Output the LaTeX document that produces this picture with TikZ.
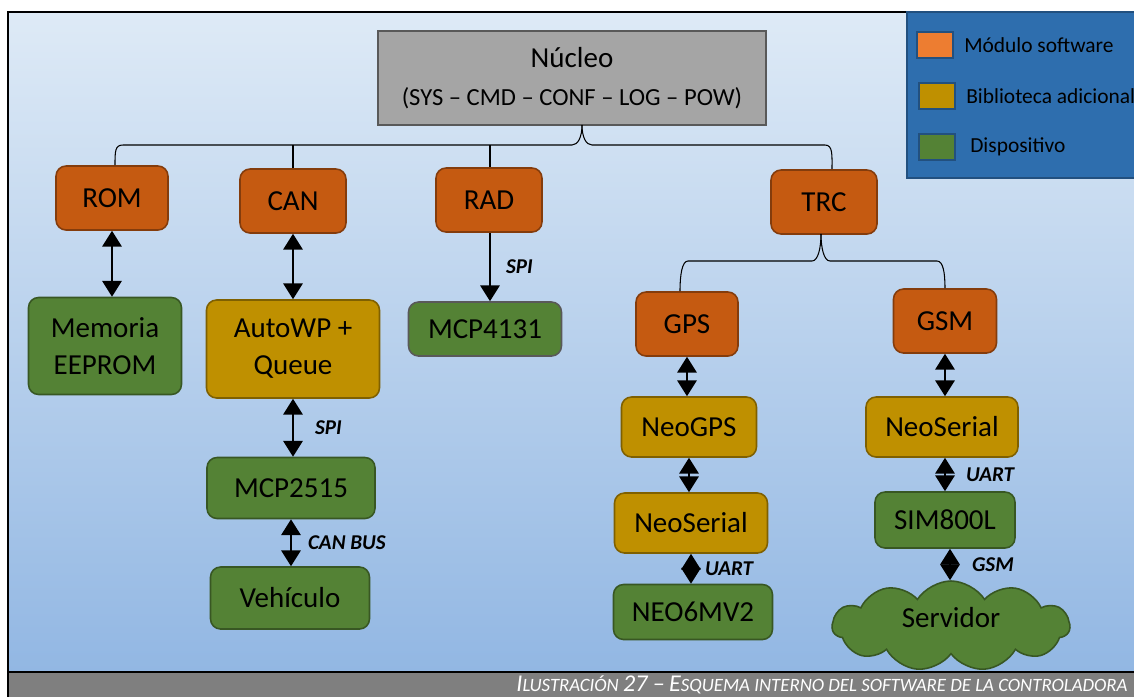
\documentclass[tikz,border=0pt]{standalone}
\usepackage{fontspec}
\setmainfont{Carlito}
\usetikzlibrary{arrows.meta}
\usetikzlibrary{shapes}
\usetikzlibrary{positioning}

\definecolor{modfill}{HTML}{C55A11}
\definecolor{moddraw}{HTML}{843C0C}
\definecolor{libfill}{HTML}{BF9000}
\definecolor{libdraw}{HTML}{7F6000}
\definecolor{devfill}{HTML}{548235}
\definecolor{devdraw}{HTML}{385723}
\definecolor{legmod}{HTML}{ED7D31}
\definecolor{legfill}{HTML}{2E6EAE}
\definecolor{legdraw}{HTML}{22507F}
\definecolor{bgtop}{HTML}{DEEAF6}
\definecolor{bgbot}{HTML}{92B7E3}
\definecolor{capgray}{HTML}{7F7F7F}
\definecolor{nucfill}{HTML}{A5A5A5}

\newcommand\gcap[1]{{\fontsize{13.7}{15}\selectfont #1}}

\begin{document}
\begin{tikzpicture}[x=0.02cm,y=-0.02cm]
\tikzset{every node/.style={font=\fontsize{16.5}{21}\selectfont, align=center, inner sep=0pt},
        >={Triangle[width=11pt,length=9pt]},
        box/.style={draw, rounded corners=0.2cm, line width=0.9pt},
        modulo/.style={box, fill=modfill, draw=moddraw, minimum width=2.12cm, minimum height=1.28cm},
        biblio/.style={box, fill=libfill, draw=libdraw},
        dispo/.style={box, fill=devfill, draw=devdraw},
        link/.style={<->, line width=1.2pt},
        brace/.style={draw=black, line width=0.6pt},
        proto/.style={font=\fontsize{12}{14}\selectfont\bfseries\itshape},
        legsq/.style={draw=legdraw, line width=1.1pt, minimum width=0.72cm, minimum height=0.52cm},
        legtxt/.style={font=\fontsize{12.2}{14}\selectfont, anchor=west}}
\useasboundingbox (0,0) rectangle (1134,697);

\shade[top color=bgtop, bottom color=bgbot] (8,12) rectangle (1134,672);
\fill[capgray] (8,672) rectangle (1134,697);
\draw[line width=1.2pt] (8,672) -- (1134,672);
\draw[line width=1.2pt] (1134,12) -- (8,12) -- (8,697);

\filldraw[fill=legfill, draw=legdraw, line width=0.8pt] (907,12) rectangle (1140,178);
\node[legsq, fill=legmod] (lmod) at (935,45) {};
\node[legsq, fill=libfill] (llib) at (937,96) {};
\node[legsq, fill=devfill] (ldev) at (937,147) {};
\node[legtxt, right=0.2cm of lmod] (tmod) {Módulo software};
\node[legtxt, right=0.2cm of llib] (tlib) {Biblioteca adicional};
\node[legtxt, right=0.28cm of ldev] (tdev) {Dispositivo};

\node[draw=black!65, fill=nucfill, line width=1.1pt, minimum width=7.76cm, minimum height=1.88cm] (nucleo) at (572,78) {Núcleo\\[1pt]{\fontsize{14}{17}\selectfont(SYS -- CMD -- CONF -- LOG -- POW)}};

\node[modulo, minimum width=2.24cm] (rom) at (112,198) {ROM};
\node[modulo] (can) at (293,201) {CAN};
\node[modulo] (rad) at (489,200) {RAD};
\node[modulo] (trc) at (824,202) {TRC};

\node[dispo, minimum width=3.06cm, minimum height=1.94cm] (mem) at (105,346) {Memoria\\EEPROM};
\node[biblio, minimum width=3.46cm, minimum height=1.96cm] (auto) at (293,349) {AutoWP +\\Queue};
\node[dispo, draw=black!65, minimum width=3.06cm, minimum height=1.08cm] (mcpr) at (485,329) {MCP4131};
\node[dispo, minimum width=3.36cm, minimum height=1.22cm] (mcpc) at (291,488) {MCP2515};
\node[dispo, minimum width=3.18cm, minimum height=1.24cm] (veh) at (290,598) {Vehículo};

\node[modulo, minimum width=2.04cm] (gps) at (687,324) {GPS};
\node[modulo, minimum width=2.06cm] (gsm) at (945,321) {GSM};
\node[biblio, minimum width=2.7cm, minimum height=1.2cm] (neogps) at (689,427) {NeoGPS};
\node[biblio, minimum width=3.06cm, minimum height=1.2cm] (serie) at (691,523) {NeoSerial};
\node[dispo, minimum width=3.18cm, minimum height=1.1cm] (neo) at (693,612) {NEO6MV2};
\node[biblio, minimum width=3.04cm, minimum height=1.2cm] (seriegsm) at (942,427) {NeoSerial};
\node[dispo, minimum width=2.8cm, minimum height=1.12cm] (sim) at (945,520) {SIM800L};
\node[cloud, cloud puffs=11, cloud puff arc=115, aspect=2.5, fill=devfill, draw=devdraw, line width=0.9pt, minimum width=4.75cm, minimum height=1.8cm, text depth=0.35cm] (srv) at (951,626) {Servidor};

\coordinate (ntip) at (582,125);
\coordinate (bl) at (0,145);
\coordinate (ttip) at (821,234);
\coordinate (tl) at (0,261);
\draw[brace] ([xshift=0.06cm]rom.north) .. controls +(0,-14) and +(-8,0) .. (123,145) -- (572,145) .. controls +(6,0) and +(0,12) .. (ntip);
\draw[brace] (ntip) .. controls +(0,12) and +(-6,0) .. (592,145) -- (825,145) .. controls +(8,0) and +(0,-14) .. ([xshift=0.16cm]trc.north);
\draw[brace] (can.north) -- (can.north |- bl);
\draw[brace] ([xshift=0.02cm]rad.north) -- ([xshift=0.02cm]rad.north |- bl);
\draw[brace] ([xshift=-0.14cm]gps.north) .. controls +(0,-16) and +(-6,0) .. (688,261) -- (812,261) .. controls +(6,0) and +(0,14) .. (ttip);
\draw[brace] (ttip) .. controls +(0,14) and +(-6,0) .. (830,261) -- (937,261) .. controls +(6,0) and +(0,-16) .. (gsm.north);

\draw[link] (rom.south) -- (rom.south |- mem.north);
\draw[link] (can.south) -- (can.south |- auto.north);
\draw[->, line width=1.2pt] ([xshift=0.02cm]rad.south) -- ([xshift=0.02cm]rad.south |- mcpr.north) node[proto, midway, right=0.3cm] {SPI};
\draw[link] (auto.south) -- (auto.south |- mcpc.north) node[proto, midway, right=0.42cm] {SPI};
\draw[link] (mcpc.south) -- (mcpc.south |- veh.north) node[proto, midway, right=0.32cm] {CAN BUS};
\draw[link] (gps.south) -- (gps.south |- neogps.north);
\draw[link] (neogps.south) -- (neogps.south |- serie.north);
\draw[link] (serie.south) -- (serie.south |- neo.north) node[proto, midway, right=0.26cm] {UART};
\draw[link] (gsm.south) -- (gsm.south |- seriegsm.north);
\draw[link] ([xshift=0.06cm]seriegsm.south) -- ([xshift=0.06cm]seriegsm.south |- sim.north) node[proto, midway, right=0.4cm] {UART};
\draw[link] ([xshift=0.1cm]sim.south) -- ([xshift=0.1cm]sim.south |- srv.north) node[proto, midway, right=0.42cm] {GSM};

\node[anchor=east, text=white, font=\fontsize{10.7}{15}\selectfont\itshape] (titulo) at (1128,685) {\gcap{I}LUSTRACIÓN \gcap{27 --} \gcap{E}SQUEMA INTERNO DEL SOFTWARE DE LA CONTROLADORA};
\end{tikzpicture}
\end{document}
